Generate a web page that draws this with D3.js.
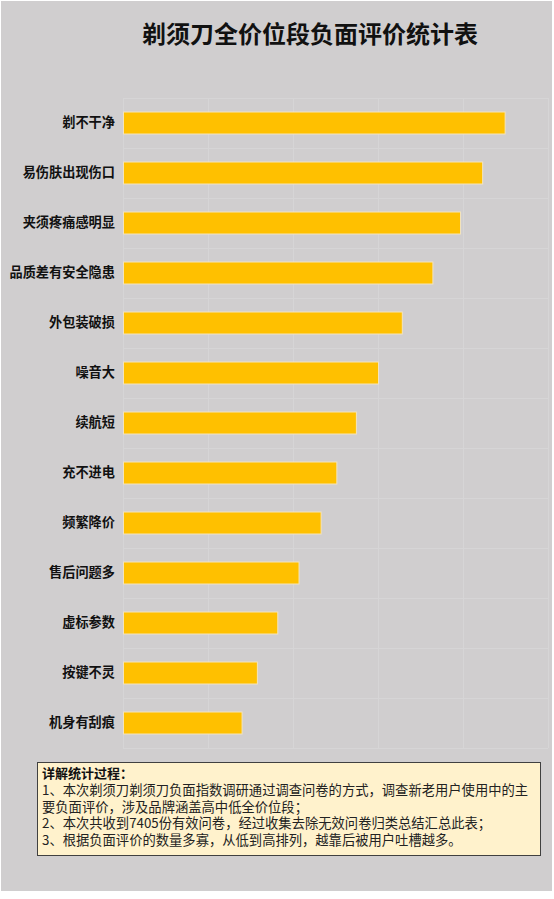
<!DOCTYPE html>
<html lang="zh">

<head>
    <meta charset="UTF-8">
    <title>剃须刀全价位段负面评价统计表</title>
    <script src="https://d3js.org/d3.v7.min.js"></script>
    <style>
        body { margin: 0; background: #fff; }
        svg { display: block; font-family: "Noto Sans CJK SC", "Noto Sans", sans-serif; }
    </style>
</head>

<body>

    <svg class="svgs" height="899" width="554"></svg>

    <script>
        // 数据：负面评价类别及数量（合计 7405）
        const categories = ['剃不干净', '易伤肤出现伤口', '夹须疼痛感明显', '品质差有安全隐患', '外包装破损',
            '噪音大', '续航短', '充不进电', '频繁降价', '售后问题多', '虚标参数', '按键不灵', '机身有刮痕']
        const counts = [898, 845, 793, 728, 656, 600, 548, 502, 465, 413, 363, 315, 279]
        const xTicks = [0, 200, 400, 600, 800, 1000]
        const title = '剃须刀全价位段负面评价统计表'
        const noteTitle = '详解统计过程：'
        const noteLines = [
            '1、本次剃须刀剃须刀负面指数调研通过调查问卷的方式，调查新老用户使用中的主',
            '要负面评价，涉及品牌涵盖高中低全价位段；',
            '2、本次共收到7405份有效问卷，经过收集去除无效问卷归类总结汇总此表；',
            '3、根据负面评价的数量多寡，从低到高排列，越靠后被用户吐槽越多。'
        ]

        const data = categories.map((name, i) => ({ name, value: counts[i] }))

        const svg = d3.select('.svgs')
        const margin = { top: 98, right: 6, bottom: 151, left: 123 }
        const width = +svg.attr('width')
        const height = +svg.attr('height')
        const innerWidth = width - margin.left - margin.right
        const innerHeight = height - margin.top - margin.bottom

        // 灰色背景
        svg.append('rect')
            .attr('x', 1).attr('y', 1)
            .attr('width', 551).attr('height', 890)
            .attr('fill', '#d0cecf')

        svg.append('text')
            .attr('x', 310).attr('y', 43)
            .attr('text-anchor', 'middle')
            .attr('font-size', 24)
            .attr('font-weight', 'bold')
            .attr('fill', '#111')
            .text(title)

        const xScale = d3.scaleLinear()
            .domain([0, 1000])
            .range([0, 425])

        const yScale = d3.scaleBand()
            .domain(categories)
            .range([0, innerHeight])
            .paddingInner(0.56)
            .paddingOuter(0.28)

        const g = svg.append('g')
            .attr('transform', `translate(${margin.left},${margin.top})`)

        // 网格线（很淡）
        g.selectAll('.vgrid')
            .data(xTicks)
            .enter().append('line')
            .attr('x1', d => xScale(d) + 0.5).attr('x2', d => xScale(d) + 0.5)
            .attr('y1', 0).attr('y2', innerHeight)
            .attr('stroke', '#d6d5d6')

        const step = yScale.step()
        g.selectAll('.hgrid')
            .data(d3.range(categories.length + 1))
            .enter().append('line')
            .attr('x1', 0).attr('x2', xScale(1000))
            .attr('y1', d => Math.round(d * step) + 0.5)
            .attr('y2', d => Math.round(d * step) + 0.5)
            .attr('stroke', '#d6d5d6')

        g.selectAll('.bar')
            .data(data)
            .enter().append('rect')
            .attr('x', 0.5)
            .attr('y', d => yScale(d.name))
            .attr('width', d => xScale(d.value))
            .attr('height', yScale.bandwidth())
            .attr('fill', '#ffc000')
            .attr('stroke', '#f3e4bd')
            .attr('stroke-width', 1)

        // 类别轴
        const yAxis = g.append('g')
            .call(d3.axisLeft(yScale).tickSize(0).tickPadding(8))
        yAxis.select('.domain').remove()
        yAxis.selectAll('text')
            .attr('font-size', 13.2)
            .attr('font-weight', 'bold')
            .attr('fill', '#111')
            .attr('font-family', '"Noto Sans CJK SC", sans-serif')

        // 说明框
        const note = svg.append('g').attr('transform', 'translate(37,762)')
        note.append('rect')
            .attr('x', 0.5).attr('y', 0.5)
            .attr('width', 503).attr('height', 93)
            .attr('fill', '#fff2cc')
            .attr('stroke', '#404040')
            .attr('stroke-width', 1)

        note.append('text')
            .attr('x', 5).attr('y', 16)
            .attr('font-size', 13)
            .attr('font-weight', 'bold')
            .attr('fill', '#111')
            .text(noteTitle)

        note.selectAll('.line')
            .data(noteLines)
            .enter().append('text')
            .attr('x', 5)
            .attr('y', (d, i) => 33 + i * 16.7)
            .attr('font-size', 13.3)
            .attr('fill', '#222')
            .text(d => d)
    </script>
</body>

</html>
